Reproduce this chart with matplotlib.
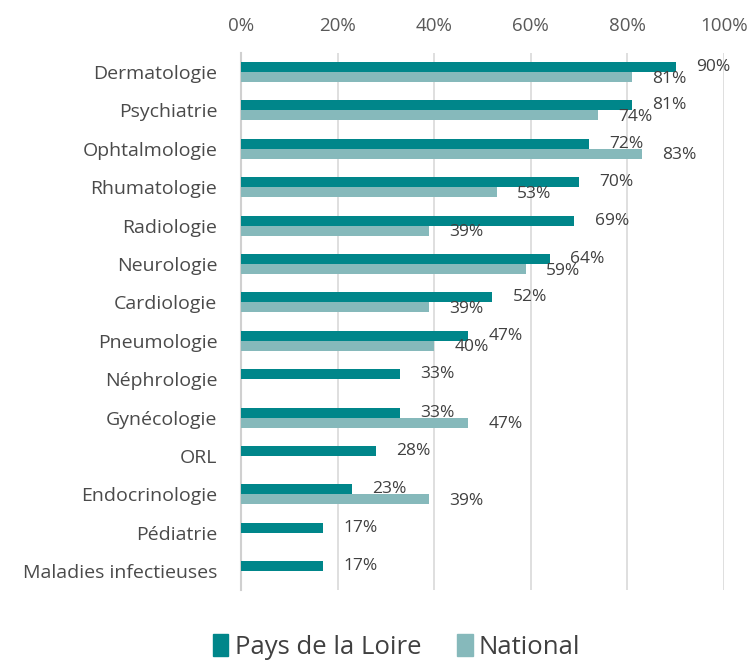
import numpy as np
import matplotlib.pyplot as plt
from matplotlib.patches import Patch

specialites = ['Dermatologie', 'Psychiatrie', 'Ophtalmologie', 'Rhumatologie', 'Radiologie',
               'Neurologie', 'Cardiologie', 'Pneumologie', 'Néphrologie', 'Gynécologie', 'ORL',
               'Endocrinologie', 'Pédiatrie', 'Maladies infectieuses']
pays_de_la_loire = [90, 81, 72, 70, 69, 64, 52, 47, 33, 33, 28, 23, 17, 17]
national = [81, 74, 83, 53, 39, 59, 39, 40, np.nan, 47, np.nan, 39, np.nan, np.nan]
xticks = [0, 20, 40, 60, 80, 100]

c_pdl = '#00868a'
c_nat = '#86b9bb'
txt = '#404040'

plt.rcParams['font.family'] = ['Open Sans', 'DejaVu Sans']

fig = plt.figure(figsize=(7.54, 6.61), dpi=100)
ax = fig.add_axes([0.3196, 0.107, 0.6406, 0.813])

y = np.arange(len(specialites))
h = 0.26
ax.barh(y - h / 2, pays_de_la_loire, height=h, color=c_pdl, zorder=3)
ax.barh(y + h / 2, national, height=h, color=c_nat, zorder=3)

# value labels, to the right of each bar end
for yi, v in zip(y, pays_de_la_loire):
    ax.text(v + 4.2, yi - h / 2, f'{v}%', va='center', ha='left', fontsize=12.5,
            color=txt, clip_on=False, zorder=4)
for yi, v in zip(y, national):
    if not np.isnan(v):
        ax.text(v + 4.2, yi + h / 2 + 0.04, f'{v:.0f}%', va='center', ha='left', fontsize=12.5,
                color=txt, clip_on=False, zorder=4)

ax.set_xlim(0, 100)
ax.set_ylim(len(specialites) - 0.5, -0.5)
ax.set_xticks(xticks)
ax.set_xticklabels([f'{t}%' for t in xticks])
ax.set_yticks(y)
ax.set_yticklabels(specialites)
ax.xaxis.tick_top()
ax.tick_params(axis='x', length=0, pad=13, labelsize=13.5, labelcolor='#595959')
ax.tick_params(axis='y', length=0, pad=17, labelsize=14, labelcolor='#4a4a4a')
ax.grid(axis='x', color='#d9d9d9', linewidth=1.2, zorder=0)
for s in ['top', 'right', 'bottom']:
    ax.spines[s].set_visible(False)
ax.spines['left'].set_color('#d0d0d0')
ax.spines['left'].set_linewidth(1.5)

handles = [Patch(color=c_pdl, label='Pays de la Loire'), Patch(color=c_nat, label='National')]
fig.legend(handles=handles, loc='center', bbox_to_anchor=(0.526, 0.021), ncol=2, frameon=False,
           fontsize=18.5, handlelength=0.6, handleheight=0.9, handletextpad=0.25,
           columnspacing=1.4, labelcolor=txt)

fig.savefig('out.png', dpi=100)
